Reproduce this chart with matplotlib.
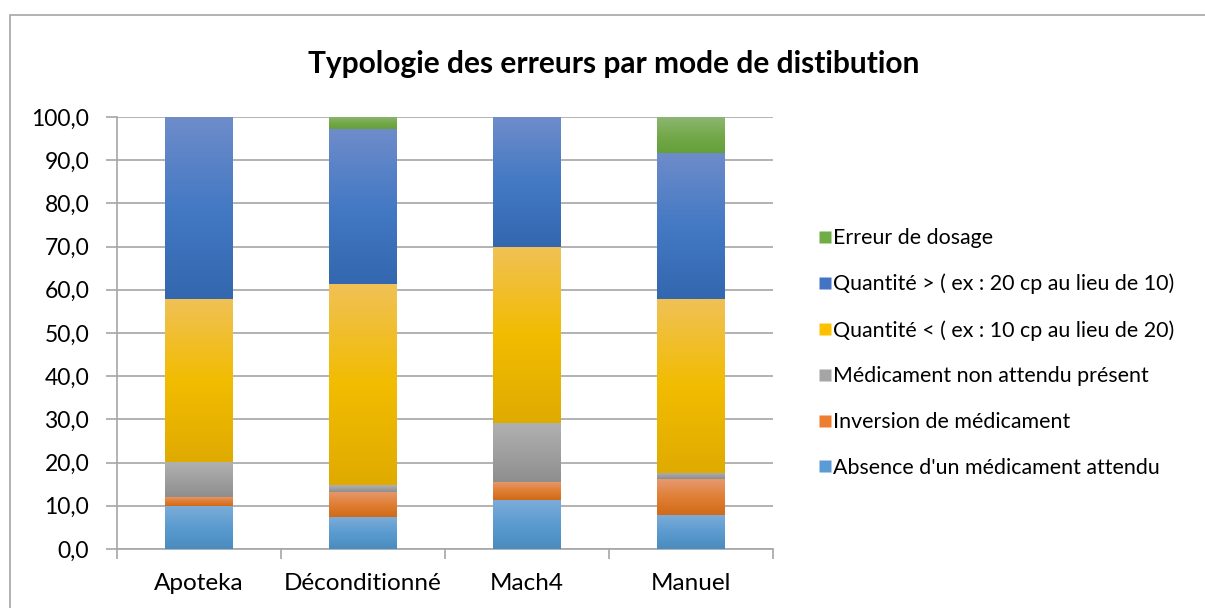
import numpy as np
import matplotlib
matplotlib.use("Agg")
import matplotlib.pyplot as plt
from matplotlib.patches import Rectangle
from matplotlib.colors import LinearSegmentedColormap
from matplotlib.lines import Line2D

categories = ["Apoteka", "Déconditionné", "Mach4", "Manuel"]
series_names = [
    "Absence d'un médicament attendu",
    "Inversion de médicament",
    "Médicament non attendu présent",
    "Quantité < ( ex : 10 cp au lieu de 20)",
    "Quantité > ( ex : 20 cp au lieu de 10)",
    "Erreur de dosage",
]
absence = [10.0, 7.5, 11.4, 7.9]
inversion = [2.1, 5.8, 4.2, 8.2]
non_attendu = [8.1, 1.5, 13.6, 1.6]
quantite_moins = [37.7, 46.6, 40.8, 40.2]
quantite_plus = [42.1, 35.8, 30.0, 33.8]
dosage = [0.0, 2.8, 0.0, 8.3]
series_values = [absence, inversion, non_attendu, quantite_moins, quantite_plus, dosage]
yticks = [0, 10, 20, 30, 40, 50, 60, 70, 80, 90, 100]
ytick_labels = ["0,0", "10,0", "20,0", "30,0", "40,0", "50,0", "60,0", "70,0", "80,0", "90,0", "100,0"]

# gradient (top, middle, bottom) colours per series
grads = [
    ("#7DADD8", "#5B9BD0", "#4A8CC0"),
    ("#E6996F", "#E07F35", "#D06A18"),
    ("#B0B0B0", "#A0A0A0", "#8E8E8E"),
    ("#F0C155", "#F2BC00", "#E0AB00"),
    ("#6E8CCA", "#4479C4", "#3367AF"),
    ("#8DB672", "#75A94B", "#64A03A"),
]
legend_colors = ["#5B9BD5", "#ED7D31", "#A5A5A5", "#FFC000", "#4472C4", "#70AD47"]

plt.rcParams['font.family'] = ['Lato', 'DejaVu Sans']

W, H = 1205, 608
fig = plt.figure(figsize=(W / 100, H / 100), dpi=100)

# chart border
fig.add_artist(Rectangle((10 / W, -0.1), 2, (H - 15) / H + 0.1, transform=fig.transFigure,
                         fill=False, edgecolor="#A6A6A6", linewidth=1.2))

ax_l, ax_r, ax_b, ax_t = 117, 773, 549, 117
ax = fig.add_axes([ax_l / W, 1 - ax_b / H, (ax_r - ax_l) / W, (ax_b - ax_t) / H])

x = np.arange(len(categories))
width = 0.41
bottoms = np.zeros(len(categories))
for vals, g in zip(series_values, grads):
    cmap = LinearSegmentedColormap.from_list("g", [g[2], g[1], g[0]])
    bars = ax.bar(x, vals, width, bottom=bottoms, color="none", edgecolor="none", zorder=3)
    for b in bars:
        if b.get_height() <= 0:
            continue
        x0, y0 = b.get_x(), b.get_y()
        im = ax.imshow(np.linspace(0, 1, 64).reshape(-1, 1), cmap=cmap, aspect="auto",
                       origin="lower", extent=[x0, x0 + b.get_width(), y0, y0 + b.get_height()],
                       zorder=3, interpolation="bilinear")
        im.set_clip_path(b)
    bottoms += np.array(vals)

ax.set_xlim(-0.5, len(categories) - 0.5)
ax.set_ylim(0, 100)
ax.set_yticks(yticks)
ax.set_yticklabels(ytick_labels, fontsize=16.5)
ax.set_xticks(x)
ax.set_xticklabels(categories, fontsize=17.5)
ax.tick_params(axis="x", length=0, pad=17)
ax.set_xticks(np.arange(-0.5, len(categories) + 0.5, 1), minor=True)
ax.tick_params(axis="x", which="minor", length=7, color="#A6A6A6", width=1.2)
ax.tick_params(axis="y", length=8, color="#A6A6A6", width=1.2, pad=12)
ax.grid(axis="y", color="#A6A6A6", linewidth=1.2, zorder=0)
ax.set_axisbelow(True)
for s in ["top", "right"]:
    ax.spines[s].set_visible(False)
ax.spines["left"].set_color("#A6A6A6")
ax.spines["bottom"].set_color("#A6A6A6")
ax.spines["left"].set_linewidth(1.2)
ax.spines["bottom"].set_linewidth(1.2)

fig.text(614 / W, 1 - 64 / H, "Typologie des erreurs par mode de distibution",
         ha="center", va="center", fontsize=21.5, fontweight="bold")

handles = [Line2D([], [], marker="s", linestyle="none", markersize=8,
                  markerfacecolor=c, markeredgecolor="none") for c in legend_colors]
leg = fig.legend(handles[::-1], series_names[::-1], loc="center left",
                 bbox_to_anchor=(798 / W, 1 - 353 / H), frameon=False, fontsize=15.4,
                 labelspacing=1.2, handletextpad=0.05, handlelength=0.7)

fig.savefig("out.png", dpi=100)
